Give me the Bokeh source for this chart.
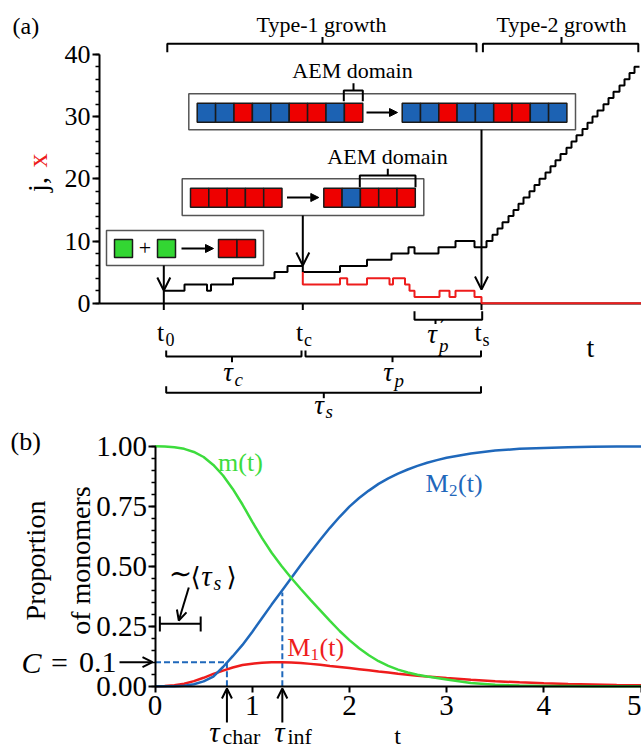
import numpy as np
from bokeh.plotting import figure
from bokeh.layouts import column
from bokeh.models import (Range1d, LinearAxis, FixedTicker, Arrow, OpenHead,
                          NormalHead, NumeralTickFormatter)
from bokeh.core.properties import value
from bokeh.embed import file_html
from bokeh.resources import INLINE

# ---------------------------------------------------------------- data (a)
t0, tc, ts = 0.0, 13.9, 31.77          # nucleation, catalytic onset, switch
j_t = [0.0, 0.0, 2.07, 4.32, 4.72, 6.92, 11.07, 12.37, 13.9, 17.62, 20.32,
       22.77, 24.47, 25.07, 27.47, 29.17, 31.07,
       32.27, 32.87, 33.37, 33.87, 34.47, 34.97, 35.47, 35.97, 36.57, 37.07,
       37.57, 38.17, 38.67, 39.17, 39.67, 40.27, 40.77, 41.27, 41.87, 42.37,
       42.87, 43.37, 43.97, 44.47, 44.97, 45.57, 46.07, 46.57, 47.07, 47.57]
j_val = [0, 2, 3, 2, 3, 4, 5, 6, 5, 6, 7,
         8, 9, 8, 9, 10, 9,
         10, 11, 12, 13, 14, 15, 16, 17, 18, 19,
         20, 21, 22, 23, 24, 25, 26, 27, 28, 29,
         30, 31, 32, 33, 34, 35, 36, 37, 38, 38]
x_t = [13.9, 13.9, 17.62, 18.34, 20.32, 22.57, 22.92, 24.12, 24.57, 25.07,
       27.57, 28.57, 29.17, 31.07, 31.77, 48.5]
x_val = [5, 3, 4, 3, 4, 3, 4, 3, 2, 1, 2, 1, 2, 1, 0, 0]
ya_ticks = [0, 10, 20, 30, 40]
ya_minor = [0, 2, 4, 6, 8, 10, 12, 14, 16, 18, 20, 22, 24, 26, 28, 30, 32, 34, 36, 38, 40]
time_marks = [t0, tc, ts]

init_before = ["green", "green"]
init_after = ["red", "red"]
mid_before = ["red", "red", "red", "red", "red"]
mid_after = ["red", "blue", "red", "red", "red"]
top_before = ["blue", "blue", "red", "blue", "blue", "red", "red", "blue", "red"]
top_after = ["blue", "blue", "red", "blue", "blue", "red", "red", "blue", "blue"]

# ---------------------------------------------------------------- data (b)
t_b = [0.0, 0.1, 0.2, 0.3, 0.4, 0.5, 0.6, 0.7, 0.8, 0.9, 1.0, 1.1, 1.2, 1.3,
       1.4, 1.5, 1.6, 1.7, 1.8, 1.9, 2.0, 2.1, 2.2, 2.3, 2.4, 2.5, 2.6, 2.7,
       2.8, 2.9, 3.0, 3.25, 3.5, 3.75, 4.0, 4.25, 4.5, 4.75, 5.0]
m_b = [1.000, 0.999, 0.996, 0.989, 0.976, 0.955, 0.922, 0.878, 0.822, 0.757,
       0.686, 0.618, 0.556, 0.502, 0.452, 0.405, 0.360, 0.316, 0.272, 0.230,
       0.192, 0.158, 0.129, 0.104, 0.085, 0.069, 0.057, 0.048, 0.040, 0.034,
       0.028, 0.013, 0.006, 0.003, 0.001, 0.001, 0.000, 0.000, 0.000]
M1_b = [0.000, 0.001, 0.004, 0.010, 0.021, 0.035, 0.051, 0.065, 0.078, 0.088,
        0.094, 0.098, 0.100, 0.100, 0.099, 0.097, 0.093, 0.089, 0.084, 0.080,
        0.076, 0.071, 0.066, 0.061, 0.057, 0.052, 0.048, 0.044, 0.040, 0.037,
        0.034, 0.027, 0.021, 0.016, 0.012, 0.009, 0.007, 0.005, 0.004]
M2_b = [0.000, 0.000, 0.000, 0.002, 0.008, 0.020, 0.040, 0.080, 0.125, 0.172,
        0.226, 0.283, 0.340, 0.395, 0.450, 0.505, 0.558, 0.610, 0.660, 0.706,
        0.748, 0.784, 0.815, 0.843, 0.866, 0.886, 0.903, 0.918, 0.931, 0.942,
        0.952, 0.970, 0.982, 0.989, 0.993, 0.996, 0.998, 0.999, 0.999]
tau_char, tau_inf, C_level = 0.74, 1.31, 0.1
M2_at_inf = 0.39
tau_s_mean = 0.42
yb_ticks = [0.0, 0.25, 0.5, 0.75, 1.0]
xb_ticks = [0, 1, 2, 3, 4, 5]

# ---------------------------------------------------------------- styling
W, HA, HB = 641, 426, 323
SERIF = "Liberation Serif"
COL = {"blue": "#1c62b3", "red": "#ee0000", "green": "#33d633"}
GREEN_C, RED_C, BLUE_C = "#3ddc3d", "#ee1c1c", "#1f68bb"


def txt(p, x, y, s, size, color="black", align="center", baseline="middle",
        style="normal", angle=0.0, font=SERIF):
    p.text(x=[x], y=[y], text=[s], text_font=value(font),
           text_font_size=value(f"{size}px"), text_color=color,
           text_align=align, text_baseline=baseline, text_font_style=style,
           angle=angle)


def poly(p, xs, ys, color="black", width=2.0, dash="solid"):
    p.line(xs, ys, line_color=color, line_width=width, line_dash=dash)


def arrow(p, x0, y0, x1, y1, size=12, width=2.0, head="open"):
    if head == "open":
        h = OpenHead(size=size, line_width=width, line_color="black")
    else:
        h = NormalHead(size=size, fill_color="black", line_color="black", line_width=1)
    p.add_layout(Arrow(end=h, x_start=x0, y_start=y0, x_end=x1, y_end=y1,
                       line_width=width, line_color="black"))


# ================================================================ panel (a)
AX0, AXS, AY0, AYS = 163.3, 10.0, 302.7, 6.22
def ax(px): return (px - AX0) / AXS
def ay(py): return (AY0 - py) / AYS
def AXL(v): return [ax(u) for u in v]
def AYL(v): return [ay(u) for u in v]

pa = figure(width=W, height=HA, x_range=Range1d(ax(0), ax(W)),
            y_range=Range1d(ay(HA), ay(0)), output_backend="svg",
            toolbar_location=None, x_axis_location=None, y_axis_location=None,
            min_border=0)
pa.outline_line_color = None
pa.grid.visible = False

ya = LinearAxis(fixed_location=ax(99), bounds=(0, 40),
                ticker=FixedTicker(ticks=ya_ticks, minor_ticks=ya_minor),
                axis_line_width=2, major_tick_line_width=2, minor_tick_line_width=1.5,
                major_tick_in=0, major_tick_out=7, minor_tick_in=0, minor_tick_out=4,
                major_label_text_font=SERIF, major_label_text_font_size="26px",
                major_label_standoff=2, major_label_text_color="black")
pa.add_layout(ya, "left")
xa = LinearAxis(fixed_location=0, bounds=(ax(99), ax(W)),
                ticker=FixedTicker(ticks=[], minor_ticks=[]),
                axis_line_width=2, major_tick_line_width=0)
pa.add_layout(xa, "below")
# tick marks at the characteristic times
pa.segment(x0=time_marks, y0=[0] * 3, x1=time_marks, y1=[ay(309.5)] * 3,
           line_color="black", line_width=2)

# staircases
pa.step(j_t, j_val, mode="after", line_color="black", line_width=2)
r_red = pa.step(x_t, x_val, mode="after", line_color=RED_C, line_width=2)
r_red.level = "overlay"

# top brackets
poly(pa, AXL([166.8, 166.8, 476, 476]), AYL([51.7, 43.3, 43.3, 51.7]))
poly(pa, AXL([322, 322]), AYL([43.3, 36.5]))
poly(pa, AXL([482.4, 482.4, 637.8, 637.8]), AYL([51.7, 43.3, 43.3, 51.7]))
poly(pa, AXL([561, 561]), AYL([43.3, 36.5]))
txt(pa, ax(321), ay(24), "Type-1 growth", 22)
txt(pa, ax(561), ay(24), "Type-2 growth", 22)


def box(p, l, r, t, b):
    p.quad(left=ax(l), right=ax(r), top=ay(t), bottom=ay(b), fill_color="white",
           line_color="#555555", line_width=1.5)


def squares(p, colors, x0, w, t, b):
    lefts = [ax(x0 + i * w) for i in range(len(colors))]
    rights = [ax(x0 + (i + 1) * w) for i in range(len(colors))]
    p.quad(left=lefts, right=rights, top=ay(t), bottom=ay(b),
           fill_color=[COL[c] for c in colors], line_color="#1a1a1a", line_width=1.5)


# top box
box(pa, 188.3, 575, 93.3, 129.3)
squares(pa, top_before, 196.7, 18.4, 102.7, 121.7)
squares(pa, top_after, 401.7, 18.3, 102.7, 121.7)
arrow(pa, ax(366), ay(112), ax(397), ay(112), size=8, head="filled")
txt(pa, ax(352), ay(70), "AEM domain", 22)
poly(pa, AXL([343.3, 343.3, 362.3, 362.3]), AYL([100.7, 90, 90, 100.7]))
poly(pa, AXL([353, 353]), AYL([90, 82.7]))
arrow(pa, ts, ay(129.3), ts, ay(289), size=13)

# middle box
box(pa, 181.7, 423.3, 178.3, 215)
squares(pa, mid_before, 190, 18.3, 187.7, 206.7)
squares(pa, mid_after, 323.3, 18.3, 187.7, 206.7)
arrow(pa, ax(286.5), ay(197), ax(318.3), ay(197), size=8, head="filled")
txt(pa, ax(387), ay(156), "AEM domain", 22)
poly(pa, AXL([359.3, 359.3, 415, 415]), AYL([186.7, 175, 175, 186.7]))
poly(pa, AXL([387.3, 387.3]), AYL([175, 168.3]))
arrow(pa, tc, ay(215), tc, ay(265), size=13)

# initial box
box(pa, 106, 263, 230, 265)
squares(pa, init_before[:1], 114, 18, 239, 257)
squares(pa, init_before[1:], 157, 18, 239, 257)
squares(pa, init_after, 218, 18.5, 239, 257)
txt(pa, ax(144.5), ay(247), "+", 22)
arrow(pa, ax(181), ay(248), ax(213), ay(248), size=8, head="filled")
arrow(pa, t0, ay(265), t0, ay(290), size=13)

# below-axis brackets
poly(pa, AXL([414, 414, 481.7, 481.7]), AYL([310.7, 319.3, 319.3, 310.7]))
poly(pa, AXL([435, 435]), AYL([319.3, 323.5]))
poly(pa, AXL([165.7, 165.7, 301, 301]), AYL([350, 356, 356, 350]))
poly(pa, AXL([231.5, 231.5]), AYL([356, 361.7]))
poly(pa, AXL([305, 305, 480.5, 480.5]), AYL([350, 356, 356, 350]))
poly(pa, AXL([392, 392]), AYL([356, 361.7]))
poly(pa, AXL([165.7, 165.7, 480.5, 480.5]), AYL([385.7, 392.3, 392.3, 385.7]))
poly(pa, AXL([323.3, 323.3]), AYL([392.3, 397.7]))

# tick-like labels
txt(pa, ax(160), ay(332), "t", 26)
txt(pa, ax(165), ay(339), "0", 18, align="left")
txt(pa, ax(299), ay(332), "t", 26)
txt(pa, ax(303.5), ay(339), "c", 18, align="left")
txt(pa, ax(477.5), ay(332), "t", 26)
txt(pa, ax(482), ay(339), "s", 18, align="left")
txt(pa, ax(431.5), ay(333), "τ", 27, style="italic")
txt(pa, ax(439.5), ay(327), "′", 22, align="left", font="DejaVu Serif")
txt(pa, ax(438.5), ay(345), "p", 19, align="left", style="italic")
txt(pa, ax(227.5), ay(371), "τ", 27, style="italic")
txt(pa, ax(234), ay(379), "c", 19, align="left", style="italic")
txt(pa, ax(387.5), ay(371), "τ", 27, style="italic")
txt(pa, ax(394), ay(380), "p", 19, align="left", style="italic")
txt(pa, ax(318.5), ay(404), "τ", 27, style="italic")
txt(pa, ax(325), ay(411), "s", 19, align="left", style="italic")
txt(pa, ax(590), ay(347), "t", 28)
txt(pa, ax(12), ay(25), "(a)", 24, align="left")
txt(pa, ax(37), ay(184), "j,", 28, baseline="alphabetic", angle=np.pi / 2)
txt(pa, ax(37), ay(160), "x", 28, color=RED_C, baseline="alphabetic", angle=np.pi / 2)

# ================================================================ panel (b)
BX0, BXS, BY0, BYS = 154.5, 97.2, 685.7, 240.0
def bx(px): return (px - BX0) / BXS
def by(py): return (BY0 - py) / BYS

pb = figure(width=W, height=HB, x_range=Range1d(bx(0), bx(W)),
            y_range=Range1d(by(HA + HB), by(HA)), output_backend="svg",
            toolbar_location=None, x_axis_location=None, y_axis_location=None,
            min_border=0)
pb.outline_line_color = None
pb.grid.visible = False

yb = LinearAxis(fixed_location=0, bounds=(0, 1),
                ticker=FixedTicker(ticks=yb_ticks,
                                   minor_ticks=[round(0.05 * i, 2) for i in range(21)]),
                formatter=NumeralTickFormatter(format="0.00"),
                axis_line_width=2, major_tick_line_width=2, minor_tick_line_width=1.5,
                major_tick_in=0, major_tick_out=7, minor_tick_in=0, minor_tick_out=4,
                major_label_text_font=SERIF, major_label_text_font_size="29px",
                major_label_standoff=1, major_label_text_color="black")
pb.add_layout(yb, "left")
xb = LinearAxis(fixed_location=0, bounds=(0, 5),
                ticker=FixedTicker(ticks=xb_ticks, minor_ticks=[]),
                axis_line_width=2, major_tick_line_width=2, major_tick_in=0,
                major_tick_out=6, major_label_text_font=SERIF,
                major_label_text_font_size="29px", major_label_standoff=4,
                major_label_text_color="black")
pb.add_layout(xb, "below")

# dashed guides
pb.line([0, tau_char], [C_level, C_level], line_color=BLUE_C, line_width=2, line_dash="6 3")
pb.line([tau_char, tau_char], [0, C_level], line_color=BLUE_C, line_width=2, line_dash="6 3")
pb.line([tau_inf, tau_inf], [0, M2_at_inf], line_color=BLUE_C, line_width=2, line_dash="6 3")

# curves
pb.line(t_b, M1_b, line_color=RED_C, line_width=2.5)
pb.line(t_b, M2_b, line_color=BLUE_C, line_width=2.5)
pb.line(t_b, m_b, line_color=GREEN_C, line_width=2.5)

# curve labels
txt(pb, bx(240), by(462), "m(t)", 26, color=GREEN_C)
txt(pb, bx(425), by(483), "M", 26, color=BLUE_C, align="left")
txt(pb, bx(448.5), by(490), "2", 17, color=BLUE_C, align="left")
txt(pb, bx(457.5), by(483), "(t)", 26, color=BLUE_C, align="left")
txt(pb, bx(286.7), by(646.7), "M", 26, color=RED_C, align="left")
txt(pb, bx(310), by(653.7), "1", 17, color=RED_C, align="left")
txt(pb, bx(319), by(646.7), "(t)", 26, color=RED_C, align="left")

# <tau_s> scale bar
s0 = 0.05
poly(pb, [s0, s0 + tau_s_mean], [by(623.3), by(623.3)])
poly(pb, [s0, s0], [by(616), by(631)])
poly(pb, [s0 + tau_s_mean, s0 + tau_s_mean], [by(616), by(631)])
arrow(pb, bx(188.3), by(587), bx(178.3), by(620), size=10)
txt(pb, bx(180), by(573), "∼", 28, font="DejaVu Serif")
txt(pb, bx(195), by(576), "⟨", 26, font="DejaVu Serif")
txt(pb, bx(206), by(575), "τ", 29, style="italic")
txt(pb, bx(213), by(582), "s", 20, style="italic", align="left")
txt(pb, bx(231), by(576), "⟩", 26, font="DejaVu Serif")

# C = 0.1
txt(pb, bx(31), by(661.7), "C", 30, style="italic")
txt(pb, bx(59), by(661.7), "=", 30)
txt(pb, bx(116), by(661.7), "0.1", 30, align="right")
arrow(pb, bx(119), C_level, bx(152), C_level, size=10)

# tau_char / tau_inf arrows
arrow(pb, tau_char, by(722), tau_char, by(688), size=10)
arrow(pb, tau_inf, by(722), tau_inf, by(688), size=10)
txt(pb, bx(214), by(731), "τ", 29, style="italic")
txt(pb, bx(222), by(736), "char", 22, align="left")
txt(pb, bx(279), by(731), "τ", 29, style="italic")
txt(pb, bx(287), by(736), "inf", 22, align="left")
txt(pb, bx(397), by(735), "t", 24)

txt(pb, bx(10), by(441), "(b)", 26, align="left")
txt(pb, bx(35), by(560), "Proportion", 28, baseline="alphabetic", angle=np.pi / 2)
txt(pb, bx(80), by(560), "of monomers", 28, baseline="alphabetic", angle=np.pi / 2)

layout = column(pa, pb, spacing=0)
open("out.html", "w").write(file_html(layout, INLINE))
